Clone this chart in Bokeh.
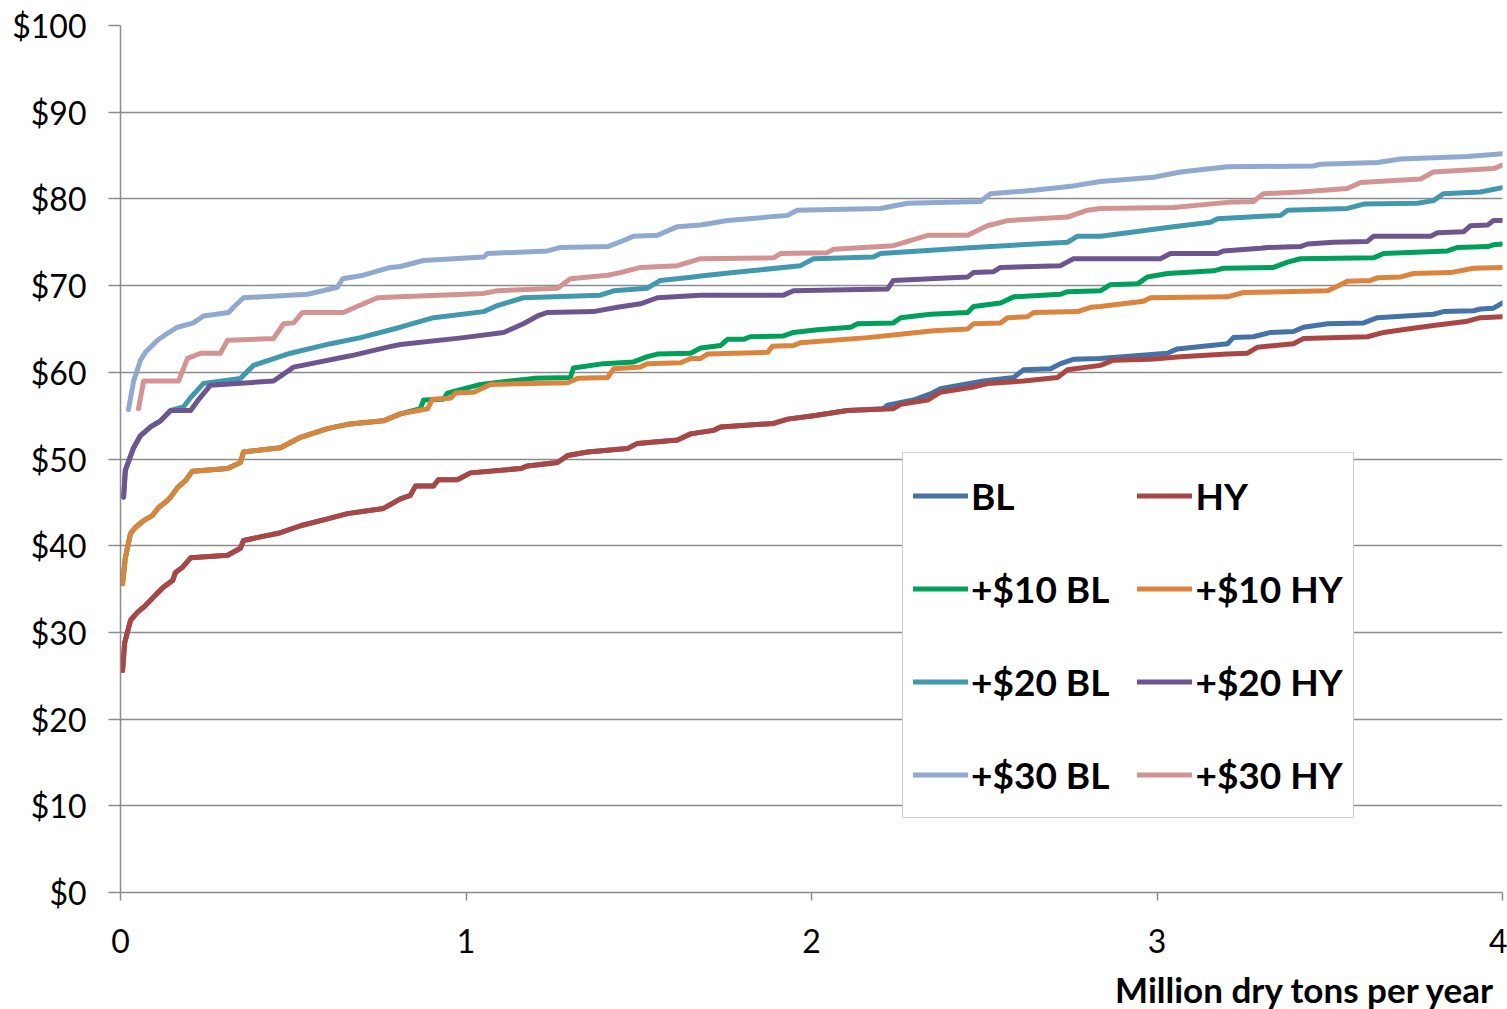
from bokeh.plotting import figure
from bokeh.models import Range1d, FixedTicker, Legend, LegendItem, Title
from bokeh.embed import file_html
from bokeh.resources import INLINE

# ---------------- data (million dry tons per year, $ per dry ton) ----------------
hy_x = [0.006, 0.012, 0.029, 0.049, 0.072, 0.101, 0.124, 0.151, 0.159, 0.179, 0.203, 0.310, 0.347, 0.356,
        0.463, 0.521, 0.599, 0.657, 0.761, 0.810, 0.839, 0.854, 0.906, 0.920, 0.975, 1.013, 1.158, 1.178,
        1.265, 1.294, 1.352, 1.467, 1.496, 1.612, 1.650, 1.716, 1.737, 1.890, 1.931, 2.006, 2.104, 2.237,
        2.258, 2.336, 2.373, 2.469, 2.509, 2.614, 2.712, 2.741, 2.836, 2.874, 2.981, 3.068, 3.204, 3.262,
        3.291, 3.395, 3.424, 3.609, 3.656, 3.725, 3.800, 3.899, 3.936, 4.0]
hy_y = [25.6, 28.8, 31.4, 32.3, 33.1, 34.3, 35.2, 36.0, 36.9, 37.5, 38.6, 38.9, 39.7, 40.6,
        41.5, 42.3, 43.1, 43.7, 44.3, 45.4, 45.8, 46.9, 46.9, 47.6, 47.6, 48.4, 48.9, 49.2,
        49.6, 50.4, 50.8, 51.2, 51.8, 52.2, 52.9, 53.3, 53.7, 54.1, 54.6, 55.0, 55.6, 55.8,
        56.3, 56.8, 57.7, 58.3, 58.7, 59.0, 59.4, 60.3, 60.8, 61.4, 61.5, 61.8, 62.1, 62.2,
        62.9, 63.3, 63.9, 64.1, 64.6, 65.0, 65.4, 65.9, 66.3, 66.4]

bl_x = [0.006, 0.012, 0.029, 0.049, 0.072, 0.101, 0.124, 0.151, 0.159, 0.179, 0.203, 0.310, 0.347, 0.356,
        0.463, 0.521, 0.599, 0.657, 0.761, 0.810, 0.839, 0.854, 0.906, 0.920, 0.975, 1.013, 1.158, 1.178,
        1.265, 1.294, 1.352, 1.467, 1.496, 1.612, 1.650, 1.716, 1.737, 1.890, 1.931, 2.006, 2.104, 2.208,
        2.220, 2.295, 2.344, 2.373, 2.498, 2.585, 2.614, 2.692, 2.721, 2.758, 2.836, 3.030, 3.059, 3.204,
        3.221, 3.279, 3.329, 3.395, 3.424, 3.494, 3.598, 3.638, 3.800, 3.829, 3.916, 3.936, 3.974, 4.0]
bl_y = [25.6, 28.8, 31.4, 32.3, 33.1, 34.3, 35.2, 36.0, 36.9, 37.5, 38.6, 38.9, 39.7, 40.6,
        41.5, 42.3, 43.1, 43.7, 44.3, 45.4, 45.8, 46.9, 46.9, 47.6, 47.6, 48.4, 48.9, 49.2,
        49.6, 50.4, 50.8, 51.2, 51.8, 52.2, 52.9, 53.3, 53.7, 54.1, 54.6, 55.0, 55.6, 55.8,
        56.2, 56.8, 57.5, 58.1, 59.0, 59.4, 60.3, 60.4, 61.0, 61.5, 61.6, 62.2, 62.7, 63.3,
        64.0, 64.1, 64.6, 64.7, 65.2, 65.6, 65.7, 66.3, 66.7, 67.0, 67.1, 67.3, 67.4, 68.0]

hy10_x = [0.006, 0.014, 0.029, 0.043, 0.067, 0.093, 0.110, 0.130, 0.145, 0.165, 0.188, 0.208, 0.310, 0.347,
          0.356, 0.463, 0.521, 0.599, 0.657, 0.761, 0.810, 0.889, 0.903, 0.955, 0.970, 1.022, 1.071, 1.294,
          1.323, 1.410, 1.427, 1.505, 1.525, 1.621, 1.650, 1.679, 1.699, 1.873, 1.887, 1.948, 1.968, 2.162,
          2.258, 2.353, 2.452, 2.469, 2.547, 2.567, 2.625, 2.643, 2.770, 2.808, 2.836, 2.961, 2.981, 3.204,
          3.250, 3.494, 3.531, 3.551, 3.618, 3.638, 3.705, 3.743, 3.849, 3.916, 4.0]
hy10_y = [35.6, 38.6, 41.4, 42.1, 42.9, 43.5, 44.4, 45.0, 45.6, 46.7, 47.5, 48.6, 48.9, 49.6,
          50.8, 51.3, 52.5, 53.5, 54.0, 54.4, 55.2, 55.8, 56.9, 57.0, 57.6, 57.7, 58.6, 58.8,
          59.3, 59.4, 60.4, 60.6, 61.0, 61.1, 61.6, 61.6, 62.1, 62.3, 63.0, 63.1, 63.4, 64.0,
          64.4, 64.8, 65.0, 65.6, 65.7, 66.3, 66.4, 66.9, 67.0, 67.5, 67.6, 68.2, 68.6, 68.7,
          69.2, 69.4, 70.1, 70.5, 70.6, 70.9, 71.0, 71.4, 71.5, 72.0, 72.1]

bl10_x = [0.006, 0.014, 0.029, 0.043, 0.067, 0.093, 0.110, 0.130, 0.145, 0.165, 0.188, 0.208, 0.310, 0.347,
          0.356, 0.463, 0.521, 0.599, 0.657, 0.761, 0.810, 0.868, 0.877, 0.935, 0.946, 1.042, 1.195, 1.302,
          1.311, 1.398, 1.485, 1.525, 1.554, 1.650, 1.679, 1.737, 1.757, 1.803, 1.823, 1.919, 1.948, 2.017,
          2.113, 2.133, 2.237, 2.258, 2.344, 2.452, 2.469, 2.547, 2.585, 2.721, 2.741, 2.836, 2.865, 2.944,
          2.972, 3.030, 3.164, 3.192, 3.337, 3.378, 3.415, 3.627, 3.656, 3.841, 3.870, 3.957, 3.974, 4.0]
bl10_y = [35.6, 38.6, 41.4, 42.1, 42.9, 43.5, 44.4, 45.0, 45.6, 46.7, 47.5, 48.6, 48.9, 49.6,
          50.8, 51.3, 52.5, 53.5, 54.0, 54.4, 55.2, 55.8, 56.8, 56.9, 57.6, 58.6, 59.3, 59.4,
          60.5, 61.0, 61.2, 61.8, 62.1, 62.2, 62.8, 63.1, 63.8, 63.8, 64.1, 64.2, 64.6, 64.9,
          65.2, 65.6, 65.7, 66.3, 66.7, 66.9, 67.6, 68.0, 68.7, 69.0, 69.3, 69.4, 70.1, 70.2,
          71.0, 71.4, 71.7, 72.0, 72.1, 72.7, 73.1, 73.2, 73.7, 74.0, 74.4, 74.5, 74.7, 74.8]

hy20_x = [0.009, 0.014, 0.038, 0.058, 0.087, 0.116, 0.145, 0.203, 0.223, 0.260, 0.443, 0.501, 0.666, 0.773,
          0.810, 0.993, 1.109, 1.166, 1.207, 1.236, 1.369, 1.438, 1.505, 1.554, 1.679, 1.919, 1.948, 2.220,
          2.237, 2.452, 2.469, 2.527, 2.547, 2.721, 2.758, 3.010, 3.039, 3.175, 3.192, 3.300, 3.320, 3.415,
          3.436, 3.511, 3.609, 3.627, 3.792, 3.812, 3.887, 3.907, 3.957, 3.974, 4.0]
hy20_y = [45.6, 48.7, 51.3, 52.7, 53.7, 54.4, 55.6, 55.6, 56.7, 58.5, 59.0, 60.6, 61.9, 62.9,
          63.2, 64.0, 64.6, 65.6, 66.5, 66.9, 67.0, 67.5, 67.9, 68.6, 68.9, 68.9, 69.4, 69.6,
          70.6, 71.0, 71.5, 71.6, 72.1, 72.3, 73.1, 73.1, 73.7, 73.7, 74.0, 74.3, 74.4, 74.5,
          74.8, 75.0, 75.1, 75.7, 75.7, 76.1, 76.2, 76.9, 77.0, 77.5, 77.5]

bl20_x = [0.009, 0.014, 0.038, 0.058, 0.087, 0.116, 0.145, 0.182, 0.203, 0.240, 0.347, 0.385, 0.492, 0.608,
          0.695, 0.810, 0.906, 1.051, 1.091, 1.166, 1.389, 1.427, 1.525, 1.563, 1.658, 1.679, 1.774, 1.968,
          2.006, 2.179, 2.200, 2.469, 2.741, 2.770, 2.836, 2.915, 3.030, 3.155, 3.175, 3.358, 3.378, 3.551,
          3.598, 3.754, 3.800, 3.829, 3.936, 4.0]
bl20_y = [45.6, 48.7, 51.3, 52.7, 53.7, 54.4, 55.6, 56.0, 57.1, 58.7, 59.3, 60.8, 62.2, 63.3,
          64.0, 65.2, 66.3, 67.0, 67.7, 68.6, 68.9, 69.4, 69.7, 70.6, 71.0, 71.1, 71.5, 72.3,
          73.1, 73.3, 73.7, 74.4, 75.0, 75.7, 75.7, 76.1, 76.7, 77.3, 77.7, 78.1, 78.7, 78.9,
          79.4, 79.5, 79.8, 80.6, 80.8, 81.3]

hy30_x = [0.052, 0.067, 0.168, 0.194, 0.232, 0.289, 0.310, 0.443, 0.472, 0.501, 0.527, 0.645, 0.703, 0.744,
          0.810, 1.051, 1.091, 1.265, 1.302, 1.410, 1.447, 1.505, 1.612, 1.679, 1.890, 1.910, 2.046, 2.064,
          2.237, 2.336, 2.452, 2.509, 2.567, 2.741, 2.799, 2.836, 3.048, 3.204, 3.279, 3.308, 3.415, 3.551,
          3.589, 3.763, 3.800, 3.974, 4.0]
hy30_y = [55.8, 59.0, 59.0, 61.6, 62.2, 62.2, 63.7, 63.9, 65.6, 65.7, 66.9, 66.9, 67.9, 68.6,
          68.7, 69.1, 69.4, 69.7, 70.8, 71.2, 71.5, 72.1, 72.3, 73.1, 73.2, 73.7, 73.8, 74.2,
          74.6, 75.8, 75.8, 76.9, 77.5, 77.9, 78.7, 78.9, 79.0, 79.6, 79.7, 80.6, 80.8, 81.2,
          81.9, 82.3, 83.1, 83.5, 83.9]

bl30_x = [0.023, 0.038, 0.058, 0.072, 0.107, 0.136, 0.165, 0.211, 0.240, 0.313, 0.327, 0.356, 0.541, 0.628,
          0.643, 0.703, 0.781, 0.810, 0.877, 1.051, 1.062, 1.236, 1.274, 1.410, 1.456, 1.485, 1.554, 1.612,
          1.679, 1.757, 1.931, 1.959, 2.200, 2.278, 2.489, 2.518, 2.643, 2.758, 2.836, 2.990, 3.068, 3.204,
          3.453, 3.473, 3.638, 3.705, 3.899, 4.0]
bl30_y = [55.7, 59.0, 61.4, 62.3, 63.7, 64.5, 65.2, 65.7, 66.5, 66.9, 67.5, 68.6, 69.0, 69.8,
          70.8, 71.2, 72.1, 72.2, 72.9, 73.3, 73.7, 74.0, 74.4, 74.5, 75.2, 75.7, 75.8, 76.8,
          77.0, 77.5, 78.1, 78.7, 78.9, 79.5, 79.7, 80.6, 81.0, 81.5, 82.0, 82.5, 83.1, 83.7,
          83.8, 84.0, 84.2, 84.6, 84.9, 85.2]

series_names = ["BL", "HY", "+$10 BL", "+$10 HY", "+$20 BL", "+$20 HY", "+$30 BL", "+$30 HY"]
series_x = [bl_x, hy_x, bl10_x, hy10_x, bl20_x, hy20_x, bl30_x, hy30_x]
series_y = [bl_y, hy_y, bl10_y, hy10_y, bl20_y, hy20_y, bl30_y, hy30_y]
series_colors = ["#4572A7", "#AA4643", "#00A05A", "#DB843D", "#4198AF", "#6F5590", "#8FA9D0", "#D39393"]

x_ticks = [0, 1, 2, 3, 4]
x_tick_labels = ["0", "1", "2", "3", "4"]
y_ticks = [0, 10, 20, 30, 40, 50, 60, 70, 80, 90, 100]
y_tick_labels = ["$0", "$10", "$20", "$30", "$40", "$50", "$60", "$70", "$80", "$90", "$100"]
x_title = "Million dry tons per year"

FONT = "Lato"

p = figure(width=1507, height=1009, output_backend="svg", toolbar_location=None,
           x_range=Range1d(0, 4), y_range=Range1d(0, 100),
           frame_width=1382, frame_height=867,
           min_border_left=120, min_border_top=25, min_border_right=5, min_border_bottom=117)
p.outline_line_color = None
p.background_fill_color = "white"
p.border_fill_color = "white"

# grid
p.xgrid.grid_line_color = None
p.ygrid.grid_line_color = "#8C8C8C"
p.ygrid.grid_line_width = 1.5
p.ygrid.ticker = FixedTicker(ticks=y_ticks)

# axes
p.xaxis.ticker = FixedTicker(ticks=x_ticks)
p.yaxis.ticker = FixedTicker(ticks=y_ticks)
p.xaxis.major_label_overrides = {t: l for t, l in zip(x_ticks, x_tick_labels)}
p.yaxis.major_label_overrides = {t: l for t, l in zip(y_ticks, y_tick_labels)}
for ax in (p.xaxis[0], p.yaxis[0]):
    ax.axis_line_color = "#8C8C8C"
    ax.axis_line_width = 1.5
    ax.major_tick_line_color = "#8C8C8C"
    ax.major_tick_line_width = 1.5
    ax.minor_tick_line_color = None
    ax.major_tick_in = 0
    ax.major_label_text_font = FONT
    ax.major_label_text_font_size = "32px"
    ax.major_label_text_color = "black"
p.xaxis.major_tick_out = 8
p.yaxis.major_tick_out = 12
p.xaxis.major_label_standoff = 28
p.yaxis.major_label_standoff = 22

# lines
items = {}
for name, xs, ys, c in zip(series_names, series_x, series_y, series_colors):
    r = p.line(xs, ys, line_color=c, line_width=5, line_join="round", line_cap="round")
    items[name] = r

order = ["BL", "+$10 BL", "+$20 BL", "+$30 BL", "HY", "+$10 HY", "+$20 HY", "+$30 HY"]
legend = Legend(items=[LegendItem(label=n, renderers=[items[n]]) for n in order],
                ncols=2, orientation="vertical",
                location=(782, 74),
                label_text_font=FONT, label_text_font_style="bold", label_text_font_size="37px",
                label_text_color="black",
                glyph_width=55, glyph_height=65, label_height=65, label_standoff=3,
                spacing=28, padding=10, margin=0,
                border_line_color="#A0A0A0", border_line_width=1.5,
                background_fill_color="white", background_fill_alpha=1.0)
p.add_layout(legend)

t = Title(text=x_title, align="right", text_font=FONT, text_font_style="bold",
          text_font_size="35px", text_color="black", standoff=20, offset=7)
p.add_layout(t, "below")

open("out.html", "w").write(file_html(p, INLINE))
